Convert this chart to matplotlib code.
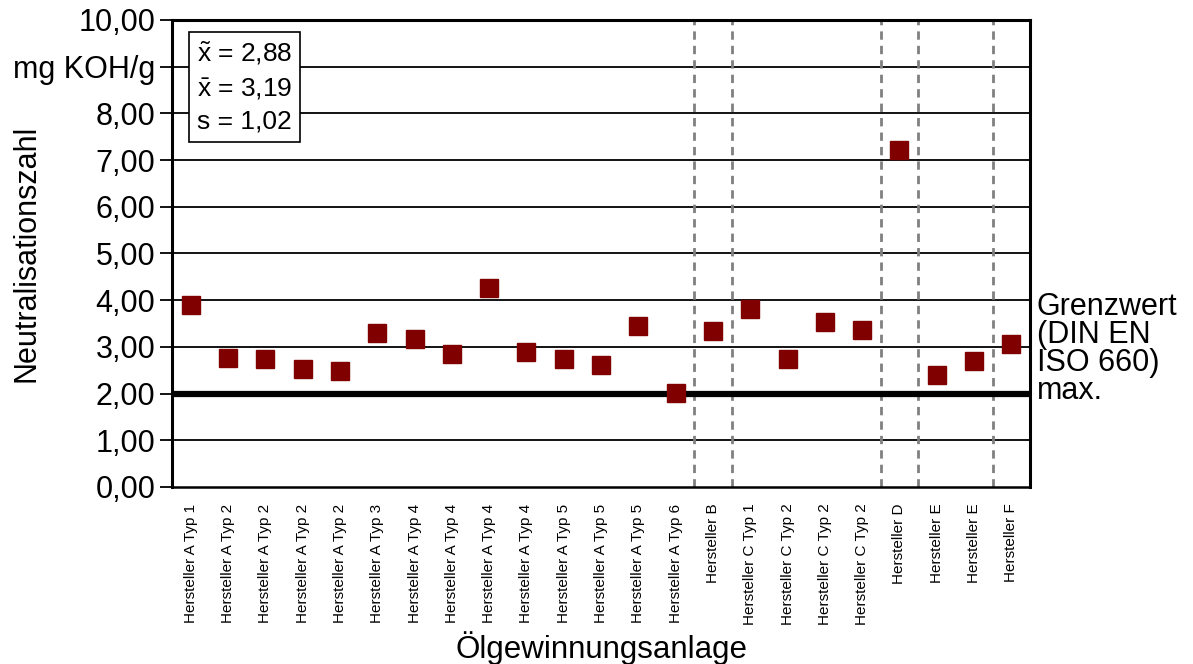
import matplotlib
matplotlib.use('Agg')
import matplotlib.pyplot as plt
from matplotlib import rcParams

rcParams['font.family'] = ['Liberation Sans', 'DejaVu Sans']
rcParams['mathtext.fontset'] = 'custom'
rcParams['mathtext.rm'] = 'Liberation Sans'
rcParams['mathtext.it'] = 'Liberation Sans'

# Daten
anlagen = ['Hersteller A Typ 1', 'Hersteller A Typ 2', 'Hersteller A Typ 2', 'Hersteller A Typ 2',
           'Hersteller A Typ 2', 'Hersteller A Typ 3', 'Hersteller A Typ 4', 'Hersteller A Typ 4',
           'Hersteller A Typ 4', 'Hersteller A Typ 4', 'Hersteller A Typ 5', 'Hersteller A Typ 5',
           'Hersteller A Typ 5', 'Hersteller A Typ 6', 'Hersteller B', 'Hersteller C Typ 1',
           'Hersteller C Typ 2', 'Hersteller C Typ 2', 'Hersteller C Typ 2', 'Hersteller D',
           'Hersteller E', 'Hersteller E', 'Hersteller F']
nz = [3.90, 2.76, 2.74, 2.53, 2.48, 3.30, 3.17, 2.85, 4.26, 2.89, 2.74, 2.61, 3.45, 2.01,
      3.34, 3.81, 2.74, 3.53, 3.36, 7.22, 2.40, 2.70, 3.06]
grenzwert = 2.0
# Trennlinien zwischen den Herstellern (Index der ersten Anlage der neuen Gruppe)
gruppen_start = [14, 15, 19, 20, 22]
y_ticks = [0, 1, 2, 3, 4, 5, 6, 7, 8, 9, 10]
y_ticklabels = ['0,00', '1,00', '2,00', '3,00', '4,00', '5,00', '6,00', '7,00', '8,00', 'mg KOH/g', '10,00']
stat_text = '$\\tilde{x}$ = 2,88\n$\\bar{x}$ = 3,19\ns = 1,02'

fig = plt.figure(figsize=(11.93, 6.64), dpi=100)
ax = fig.add_axes([0.1442, 0.2666, 0.7192, 0.7034])

x = list(range(len(nz)))
ax.set_xlim(-0.5, len(nz) - 0.5)
ax.set_ylim(0, 10)

# Gitterlinien
for yv in y_ticks[1:-1]:
    if yv != grenzwert:
        ax.axhline(yv, color='black', lw=1.3, zorder=1)
ax.axhline(grenzwert, color='black', lw=4.5, zorder=2)

for g in gruppen_start:
    ax.axvline(g - 0.5, color='#808080', lw=2, ls=(0, (3, 2.2)), zorder=1.5)

ax.plot(x, nz, ls='none', marker='s', ms=13.5, color='#800000', mec='#800000', zorder=3,
        clip_on=False)

ax.set_yticks(y_ticks)
ax.set_yticklabels(y_ticklabels, fontsize=22)
ax.tick_params(axis='y', length=9, width=1.3, pad=3)
ax.set_xticks(x)
ax.set_xticklabels(anlagen, rotation=90, fontsize=11, va='top')
ax.tick_params(axis='x', length=0, pad=12)

for side in ['left', 'top', 'right']:
    ax.spines[side].set_linewidth(2.2)
ax.spines['bottom'].set_linewidth(1.8)

ax.set_ylabel('Neutralisationszahl', fontsize=22)
ax.yaxis.label.set_va('center')
ax.yaxis.set_label_coords(-0.17, 0.5)
ax.set_xlabel('Ölgewinnungsanlage', fontsize=22.5)
ax.xaxis.label.set_va('center')
ax.xaxis.set_label_coords(0.5, -0.345)

ax.text(0.029, 0.957, stat_text, transform=ax.transAxes, fontsize=19, va='top', ha='left',
        linespacing=1.42,
        bbox=dict(boxstyle='square,pad=0.3', fc='white', ec='black', lw=1.2), zorder=5)

ax.text(1.008, 2.95, 'Grenzwert\n(DIN EN\nISO 660)\nmax.', transform=ax.get_yaxis_transform(),
        fontsize=22, va='center', ha='left', linespacing=0.92)

plt.savefig('out.png', dpi=100)
